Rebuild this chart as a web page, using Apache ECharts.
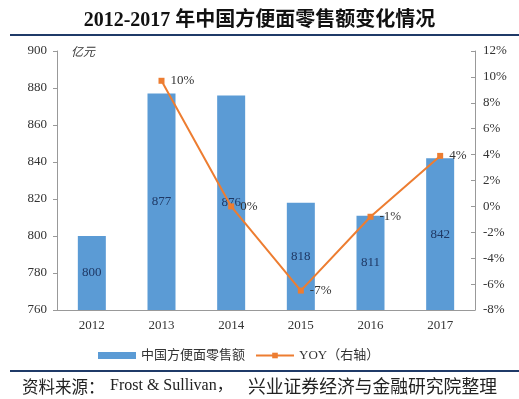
<!DOCTYPE html>
<html>
<head>
<meta charset="utf-8">
<script src="https://cdn.jsdelivr.net/npm/echarts@6/dist/echarts.min.js"></script>
<style>
  html, body { margin: 0; padding: 0; background: #fff; }
  #chart { width: 519px; height: 399px; }
</style>
</head>
<body>
<div id="chart"></div>
<script>
// data
var years = ["2012", "2013", "2014", "2015", "2016", "2017"];
var retail = [800, 877, 876, 818, 811, 842];          // 亿元
var yoy = [null, 9.7, 0.0, -6.5, -0.8, 3.9];           // %
var yoyLabels = ["", "10%", "0%", "-7%", "-1%", "4%"];

var serif = "'Liberation Serif', 'Noto Sans CJK SC', serif";
var navy = "#1f3a68";

var myChart = echarts.init(document.getElementById("chart"));
var option = {
  backgroundColor: "#fff",
  animation: false,
  title: {
    text: "2012-2017 年中国方便面零售额变化情况",
    left: "center",
    top: 6,
    textStyle: {
      fontFamily: serif,
      fontSize: 20,
      fontWeight: "bold",
      color: "#111"
    }
  },
  grid: {
    left: 57,
    right: 44,
    top: 51,
    bottom: 89
  },
  legend: {
    bottom: 32,
    left: 93,
    itemGap: 10,
    itemWidth: 38,
    itemHeight: 7,
    textStyle: { fontFamily: serif, fontSize: 13, color: "#333" },
    data: [
      { name: "中国方便面零售额", icon: "rect" },
      { name: "YOY（右轴）" }
    ]
  },
  xAxis: {
    type: "category",
    data: years,
    axisLine: { onZero: false, lineStyle: { color: "#999" } },
    axisTick: { inside: true, length: 4, lineStyle: { color: "#999" } },
    axisLabel: { fontFamily: serif, fontSize: 13, color: "#333", margin: 9 }
  },
  yAxis: [
    {
      type: "value",
      min: 760,
      max: 900,
      interval: 20,
      splitLine: { show: false },
      axisLine: { show: true, lineStyle: { color: "#999" } },
      axisTick: { show: true, length: 4, lineStyle: { color: "#999" } },
      axisLabel: { fontFamily: serif, fontSize: 13, color: "#333", margin: 10 }
    },
    {
      type: "value",
      min: -8,
      max: 12,
      interval: 2,
      splitLine: { show: false },
      axisLine: { show: true, lineStyle: { color: "#999" } },
      axisTick: { show: true, inside: true, length: 4, lineStyle: { color: "#999" } },
      axisLabel: {
        fontFamily: serif, fontSize: 13, color: "#333", margin: 8,
        formatter: "{value}%"
      }
    }
  ],
  graphic: [
    { type: "line", shape: { x1: 10, y1: 35, x2: 519, y2: 35 },
      style: { stroke: navy, lineWidth: 2 } },
    { type: "line", shape: { x1: 10, y1: 371, x2: 519, y2: 371 },
      style: { stroke: navy, lineWidth: 2 } },
    { type: "text", left: 71, top: 45,
      style: { text: "亿元", font: "italic 12px 'Noto Sans CJK SC'", fill: "#333" } },
    // source line, split so the widths follow the reference
    { type: "text", left: 22, top: 378,
      style: { text: "资料来源：", font: "16.5px 'Noto Sans CJK SC'", fill: "#222" } },
    { type: "text", left: 110, top: 378,
      style: { text: "Frost & Sullivan，", font: "16px 'Liberation Serif', 'Noto Sans CJK SC'", fill: "#222" } },
    { type: "text", left: 248, top: 377,
      style: { text: "兴业证券经济与金融研究院整理", font: "17.8px 'Noto Sans CJK SC'", fill: "#222" } }
  ],
  series: [
    {
      name: "中国方便面零售额",
      type: "bar",
      data: retail,
      barWidth: 28,
      itemStyle: { color: "#5b9bd5" },
      label: {
        show: true,
        position: "inside",
        fontFamily: serif,
        fontSize: 13,
        color: "#1f3864"
      }
    },
    {
      name: "YOY（右轴）",
      type: "line",
      yAxisIndex: 1,
      data: yoy,
      symbol: "rect",
      symbolSize: 6,
      lineStyle: { color: "#ed7d31", width: 2 },
      itemStyle: { color: "#ed7d31" },
      label: {
        show: true,
        position: "right",
        distance: 6,
        fontFamily: serif,
        fontSize: 13,
        color: "#333",
        formatter: function (p) { return yoyLabels[p.dataIndex]; }
      }
    }
  ]
};
myChart.setOption(option);
</script>
</body>
</html>
